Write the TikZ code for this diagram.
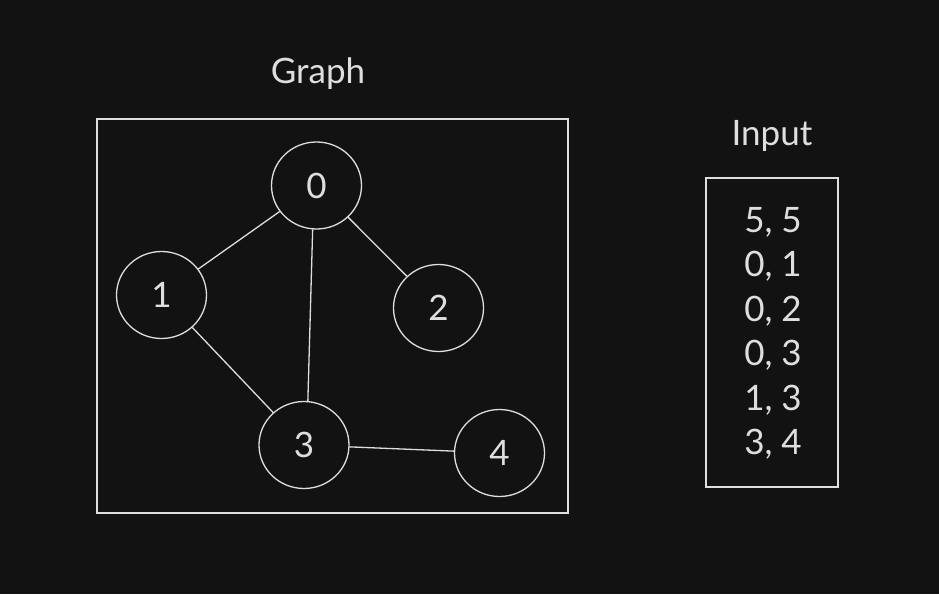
\documentclass[tikz,border=0pt]{standalone}
\usepackage{fontspec}
\setmainfont{Lato}
\usetikzlibrary{shapes.geometric}
\definecolor{bg}{RGB}{18,18,18}
\definecolor{ink}{RGB}{222,222,222}
\begin{document}
\begin{tikzpicture}[x=1pt,y=-1pt,
  every node/.style={text=ink, font=\fontsize{35}{44.5}\selectfont},
  vert/.style={ellipse, draw=ink, line width=1.3pt, minimum width=90pt, minimum height=87pt, inner sep=0pt},
  frame/.style={draw=ink, line width=1.3pt},
  edge/.style={draw=ink, line width=1.3pt}]
\fill[bg] (0,0) rectangle (939,594);
\useasboundingbox (0,0) rectangle (939,594);
\draw[frame] (97,119) rectangle (568,513);
\draw[frame] (706,178) rectangle (838,487);
\node (glabel) at (318,74) {Graph};
\node (ilabel) at (772,136) {Input};
\node (n0) [vert] at (316.5,185.5) {0};
\node (n1) [vert] at (161.5,295) {1};
\node (n2) [vert] at (438.5,308) {2};
\node (n3) [vert] at (304,445) {3};
\node (n4) [vert] at (499.5,453) {4};
\draw[edge] (n0) -- (n1);
\draw[edge] (n0) -- (n2);
\draw[edge] (n0.-95) -- (n3.85);
\draw[edge] (n1) -- (n3);
\draw[edge] (n3) -- (n4);
\node (input) [align=center] at (773,333.5) {5, 5\\0, 1\\0, 2\\0, 3\\1, 3\\3, 4};
\end{tikzpicture}
\end{document}
